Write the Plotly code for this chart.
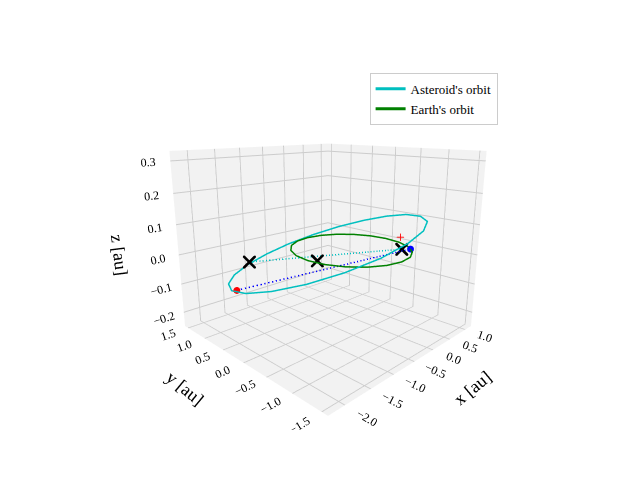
import plotly.graph_objects as go

# asteroid orbit (18 degree steps)
ast_x = [1.0, 0.92, 0.69, 0.34, -0.11, -0.6, -1.09, -1.54, -1.89, -2.12, -2.2,
         -2.12, -1.89, -1.54, -1.09, -0.6, -0.11, 0.34, 0.69, 0.92, 1.0]
ast_y = [0, 0.45, 0.86, 1.19, 1.40, 1.47, 1.40, 1.19, 0.86, 0.45, 0,
         -0.45, -0.86, -1.19, -1.40, -1.47, -1.40, -1.19, -0.86, -0.45, 0]
ast_z = [0.084, 0.056, 0.025, -0.007, -0.036, -0.06, -0.076, -0.083, -0.079, -0.066, -0.044,
         -0.016, 0.015, 0.047, 0.076, 0.10, 0.116, 0.123, 0.119, 0.106, 0.084]

# earth orbit
earth_x = [1, 0.951, 0.809, 0.588, 0.309, 0, -0.309, -0.588, -0.809, -0.951, -1,
           -0.951, -0.809, -0.588, -0.309, 0, 0.309, 0.588, 0.809, 0.951, 1]
earth_y = [0, 0.309, 0.588, 0.809, 0.951, 1, 0.951, 0.809, 0.588, 0.309, 0,
           -0.309, -0.588, -0.809, -0.951, -1, -0.951, -0.809, -0.588, -0.309, 0]
earth_z = [0] * 21

# line of nodes, crosses, bodies
nodes_x = [-1.7, 0.6]
nodes_y = [0.55, -0.6]
nodes_z = [0, 0]
cross_x = [-1.7, -0.9, 0.6]
cross_y = [0.55, -0.1, -0.6]
cross_z = [0, 0, 0]
ast_pos = (-2.1, 0.35, -0.06)
earth_pos = (0.72, -0.69, 0)
plus_pos = (0.62, -0.55, 0.04)

x_ticks = [-2.0, -1.5, -1.0, -0.5, 0.0, 0.5, 1.0]
y_ticks = [-1.5, -1.0, -0.5, 0.0, 0.5, 1.0, 1.5]
z_ticks = [-0.2, -0.1, 0.0, 0.1, 0.2, 0.3]


def labels(vals):
    return [f'{v:.1f}'.replace('-', '\u2212') for v in vals]


fig = go.Figure()
fig.add_trace(go.Scatter3d(x=ast_x, y=ast_y, z=ast_z, mode='lines',
                           line=dict(color='#00bfbf', width=3), name="Asteroid's orbit"))
fig.add_trace(go.Scatter3d(x=earth_x, y=earth_y, z=earth_z, mode='lines',
                           line=dict(color='green', width=3), name="Earth's orbit"))
fig.add_trace(go.Scatter3d(x=nodes_x, y=nodes_y, z=nodes_z, mode='lines',
                           line=dict(color='#00bfbf', width=3, dash='dash'), showlegend=False))
fig.add_trace(go.Scatter3d(x=[ast_pos[0], earth_pos[0]], y=[ast_pos[1], earth_pos[1]],
                           z=[ast_pos[2], earth_pos[2]], mode='lines',
                           line=dict(color='blue', width=3, dash='dash'), showlegend=False))
fig.add_trace(go.Scatter3d(x=cross_x, y=cross_y, z=cross_z, mode='markers',
                           marker=dict(symbol='x', size=3, color='black'), showlegend=False))
fig.add_trace(go.Scatter3d(x=[ast_pos[0]], y=[ast_pos[1]], z=[ast_pos[2]], mode='markers',
                           marker=dict(size=4, color='red'), showlegend=False))
fig.add_trace(go.Scatter3d(x=[earth_pos[0]], y=[earth_pos[1]], z=[earth_pos[2]], mode='markers',
                           marker=dict(size=4, color='blue'), showlegend=False))
fig.add_trace(go.Scatter3d(x=[plus_pos[0]], y=[plus_pos[1]], z=[plus_pos[2]], mode='markers',
                           marker=dict(symbol='cross', size=4, color='red'), showlegend=False))

ax = dict(backgroundcolor='#f2f2f2', gridcolor='#cccccc', showbackground=True,
          zeroline=False, tickfont=dict(size=12))
fig.update_layout(
    width=640, height=480, margin=dict(l=0, r=0, t=0, b=0),
    font=dict(family='Liberation Serif', color='black'),
    paper_bgcolor='white',
    legend=dict(x=0.565, y=0.865, bordercolor='#cccccc', borderwidth=1, font=dict(size=13)),
    scene=dict(
        xaxis=dict(ax, title=dict(text='x [au]', font=dict(size=18)), range=[-2.3, 1.2],
                   tickvals=x_ticks, ticktext=labels(x_ticks)),
        yaxis=dict(ax, title=dict(text='y [au]', font=dict(size=18)), range=[-1.6, 1.6],
                   tickvals=y_ticks, ticktext=labels(y_ticks)),
        zaxis=dict(ax, title=dict(text='z [au]', font=dict(size=18)), range=[-0.25, 0.33],
                   tickvals=z_ticks, ticktext=labels(z_ticks)),
        aspectmode='manual', aspectratio=dict(x=1, y=1, z=0.85),
        camera=dict(eye=dict(x=-1.45, y=-1.45, z=0.55)),
        domain=dict(x=[0.08, 0.92], y=[0.12, 0.9]),
    ),
)
fig.write_html("out.html")
